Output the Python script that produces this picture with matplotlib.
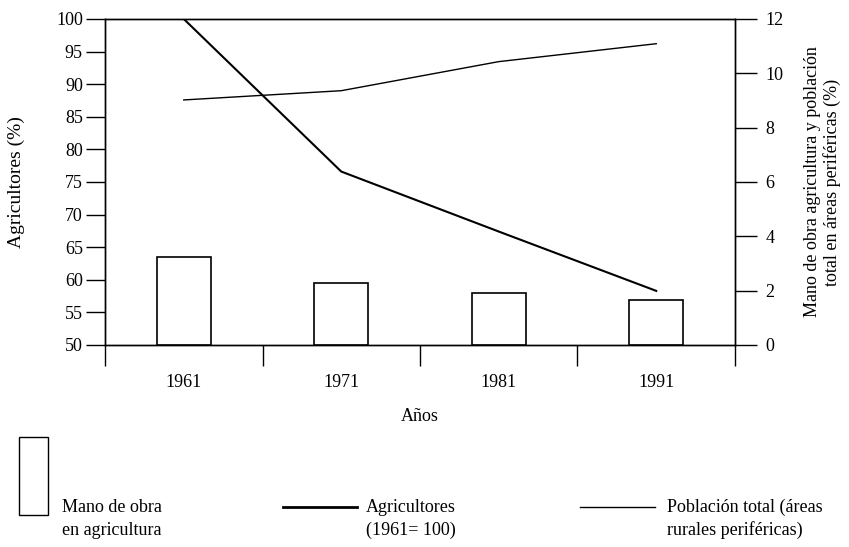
import numpy as np
import matplotlib
matplotlib.use("Agg")
import matplotlib.pyplot as plt
from matplotlib.lines import Line2D
from matplotlib.patches import Rectangle

plt.rcParams['font.family'] = ['Liberation Serif', 'DejaVu Serif']

years = ['1961', '1971', '1981', '1991']
mano_obra = [3.25, 2.30, 1.92, 1.65]          # right axis (%)
agricultores = [100, 76.6, 67.4, 58.3]        # left axis (1961 = 100)
poblacion = [9.02, 9.36, 10.43, 11.09]        # right axis (%)

fig = plt.figure(figsize=(8.49, 5.47), dpi=100)
ax = fig.add_axes([0.1237, 0.3693, 0.742, 0.596])
ax2 = ax.twinx()

x = np.arange(len(years))

ax2.bar(x, mano_obra, width=0.34, color='white', edgecolor='black', linewidth=1.2)
ax2.plot(x, poblacion, color='black', linewidth=1.0)
ax.plot(x, agricultores, color='black', linewidth=1.5)

ax.set_xlim(-0.5, 3.5)
ax.set_ylim(50, 100)
ax2.set_ylim(0, 12)
ax.set_yticks(np.arange(50, 101, 5))
ax2.set_yticks(np.arange(0, 13, 2))

ax.set_xticks(x)
ax.set_xticklabels(years)
ax.set_xticks(np.arange(-0.5, 4, 1), minor=True)
ax.tick_params(axis='x', which='major', length=0, pad=21, labelsize=13)
ax.tick_params(axis='x', which='minor', length=15, width=1.0, direction='out')
ax.tick_params(axis='y', length=14, width=1.0, direction='out', labelsize=13, pad=2)
ax2.tick_params(axis='y', length=16, width=1.0, direction='out', labelsize=13, pad=6)

for a in (ax, ax2):
    for s in a.spines.values():
        s.set_linewidth(1.0)

ax.set_ylabel('Agricultores (%)', fontsize=14, labelpad=22)
ax2.set_ylabel('Mano de obra agricultura y población\ntotal en áreas periféricas (%)',
               fontsize=13, labelpad=15, linespacing=1.1)
ax.set_xlabel('Años', fontsize=13, labelpad=12)

# legend drawn below the chart
fig.patches.append(Rectangle((19 / 849, 1 - 515 / 547), 29 / 849, 78 / 547,
                             transform=fig.transFigure, facecolor='white',
                             edgecolor='black', linewidth=1.0))
fig.text(62 / 849, 1 - 519 / 547, 'Mano de obra\nen agricultura', fontsize=13,
         va='center', ha='left', linespacing=1.4)
fig.lines.append(Line2D([283 / 849, 357 / 849], [1 - 507 / 547, 1 - 507 / 547],
                        transform=fig.transFigure, color='black', linewidth=2.0))
fig.text(366 / 849, 1 - 519 / 547, 'Agricultores\n(1961= 100)', fontsize=13,
         va='center', ha='left', linespacing=1.4)
fig.lines.append(Line2D([580 / 849, 655 / 849], [1 - 507 / 547, 1 - 507 / 547],
                        transform=fig.transFigure, color='black', linewidth=1.0))
fig.text(667 / 849, 1 - 519 / 547, 'Población total (áreas\nrurales periféricas)', fontsize=13,
         va='center', ha='left', linespacing=1.4)

fig.savefig('out.png', dpi=100)
